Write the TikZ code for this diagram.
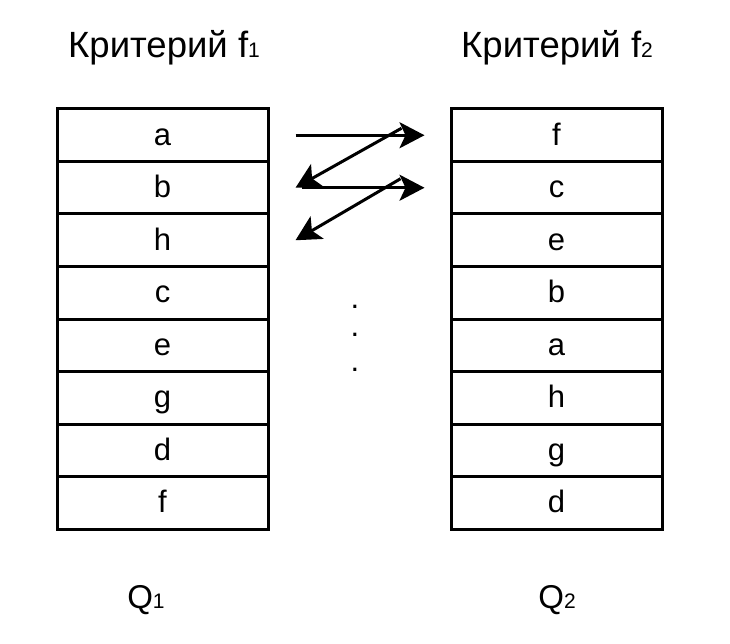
\documentclass[tikz,border=0pt]{standalone}
\usepackage{fontspec}
\setmainfont{Liberation Sans}
\usetikzlibrary{arrows.meta}

\begin{document}
\begin{tikzpicture}[x=1pt,y=-1pt]
        % two ranked lists, one per criterion
        \tikzstyle{cell} = [draw,rectangle,line width=3pt,minimum width=211pt,minimum height=52.5pt,inner sep=0pt,text height=23pt,text depth=3pt,font=\fontsize{31}{36}\selectfont];
        \tikzstyle{title} = [font=\fontsize{36.5}{42}\selectfont,anchor=base];
        \tikzstyle{gap} = [font=\fontsize{31}{36}\selectfont,anchor=base];
        \tikzstyle{swap} = [line width=3pt,-{Stealth[length=25pt,width=26pt,inset=6pt]}];
        \newcommand{\idx}[1]{{\fontsize{21}{24}\selectfont #1}}

        \useasboundingbox (0,0) rectangle (730,644);

        \foreach \name/\y in {a/1,b/2,h/3,c/4,e/5,g/6,d/7,f/8}
            \node[cell] (l\y) at (162.5,109+52.5*\y-26.25) {\name};
        \foreach \name/\y in {f/1,c/2,e/3,b/4,a/5,h/6,g/7,d/8}
            \node[cell] (r\y) at (556.5,109+52.5*\y-26.25) {\name};

        \node[title] (critA) at (164,58) {Критерий f\idx{1}};
        \node[title] (critB) at (557,58) {Критерий f\idx{2}};
        \node[title,font=\fontsize{33}{38}\selectfont] (qA) at (146,608) {Q\idx{1}};
        \node[title,font=\fontsize{33}{38}\selectfont] (qB) at (557,608) {Q\idx{2}};

        \node[gap] (dotA) at (355,308) {.};
        \node[gap] (dotB) at (355,336) {.};
        \node[gap] (dotC) at (355,371) {.};

        \draw[swap] ([xshift=26pt]l1.east) -- ([xshift=-25pt]r1.west);
        \draw[swap] ([xshift=-48pt,yshift=7pt]r1.west) -- ([xshift=26pt]l2.east);
        \draw[swap] ([xshift=32pt]l2.east) -- ([xshift=-25pt]r2.west);
        \draw[swap] ([xshift=-49pt,yshift=9pt]r2.west) -- ([xshift=26pt]l3.east);

    \end{tikzpicture}
\end{document}
